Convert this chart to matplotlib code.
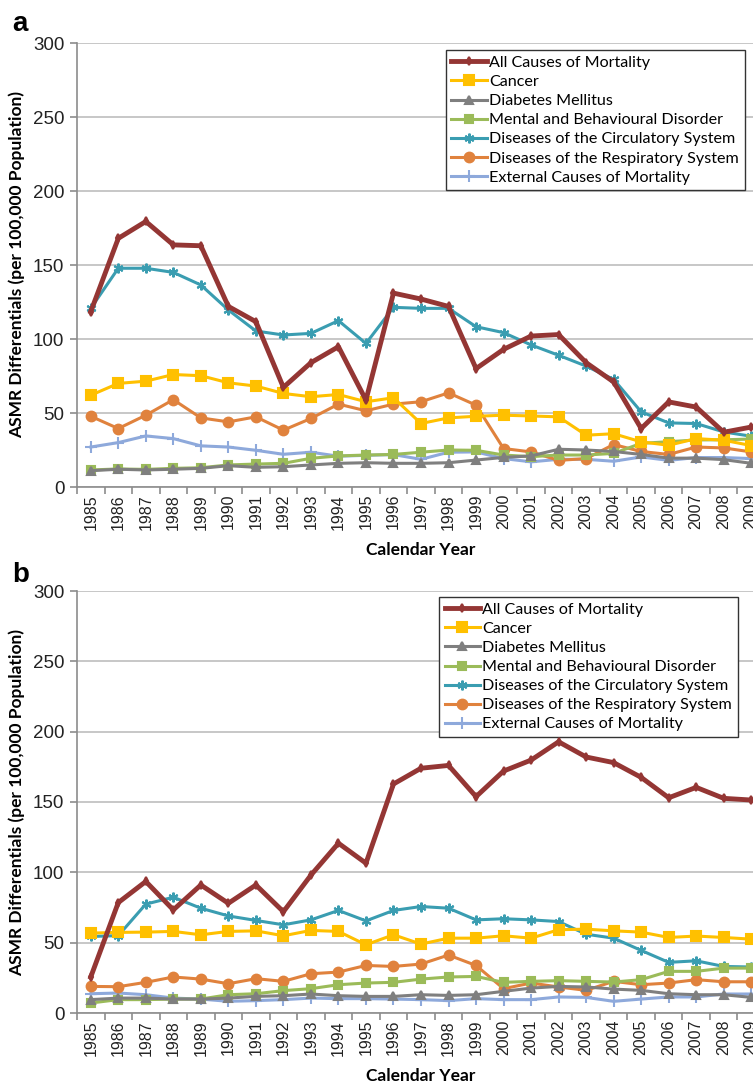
import numpy as np
import matplotlib
matplotlib.use("Agg")
import matplotlib.pyplot as plt

plt.rcParams['font.family'] = ['Lato', 'DejaVu Sans']

years = [str(y) for y in range(1985, 2010)]

labels = ["All Causes of Mortality", "Cancer", "Diabetes Mellitus",
          "Mental and Behavioural Disorder", "Diseases of the Circulatory System",
          "Diseases of the Respiratory System", "External Causes of Mortality"]

# panel a
a_all = [118.5, 168, 179.4, 163.6, 163, 122, 111.7, 67.3, 84, 94.8, 58.7, 131, 127,
         122, 80, 93, 102, 103, 84, 71, 39.5, 57.5, 54, 37, 40.5]
a_cancer = [62, 70, 71.5, 76, 75.2, 70.4, 68.2, 63.2, 61, 62.5, 57.6, 60.3, 42.9,
            46.7, 47.8, 48.5, 48, 47.4, 35, 36, 30.5, 28.2, 32.7, 31.6, 28]
a_diab = [11, 12, 11.5, 12, 12.6, 14.4, 13.3, 13.7, 14.9, 16, 16.4, 16, 16, 16.4,
          18.2, 20, 21, 25.5, 25, 24, 22, 19.5, 19.5, 18.5, 16]
a_mental = [11.5, 12.2, 11.9, 12.6, 13, 14.9, 15.5, 16, 19.4, 21, 21.6, 22, 23.5,
            25, 24.8, 21.6, 20.5, 21.6, 21.6, 22.7, 29.5, 30.6, 31.8, 31.9, 32.4]
a_circ = [120.7, 147.8, 147.8, 145, 136.5, 119.6, 105.4, 102.7, 103.8, 112.4, 97,
          121.4, 120.7, 120.7, 108.3, 104.3, 96, 89, 81.7, 72.7, 50.8, 43.3, 42.9,
          37.2, 34.3]
a_resp = [47.8, 39.5, 48.5, 59, 46.7, 44, 47.4, 38.4, 46.3, 56, 51.5, 56, 57.6,
          63.6, 55.3, 26, 23.7, 18, 19.2, 28.7, 24, 22, 27, 26.4, 23.7]
a_ext = [27, 30, 34.5, 32.7, 27.8, 27, 24.8, 22.1, 23.5, 20.8, 21.4, 21.9, 18.7,
         23.5, 23.7, 19.2, 17, 18.7, 18.7, 17.4, 20.3, 18, 19.9, 19.9, 19.2]

# panel b
b_all = [25.6, 78.5, 93.5, 73.3, 91, 78, 91, 72, 98, 120.7, 106.5, 162.8, 174, 176,
         153.8, 172, 179.8, 192.8, 182, 178, 167.5, 153, 160.4, 152.6, 151.4]
b_cancer = [56.8, 57.3, 57.5, 58, 55.6, 58, 58.4, 54.9, 58.7, 58, 48.5, 55.6, 49,
            53.2, 53.2, 54.9, 53.2, 59.2, 59.6, 58.4, 57.5, 53.7, 54.7, 53.7, 52.5]
b_diab = [9.5, 10.6, 10.6, 9.9, 9.9, 10.6, 11.8, 12.3, 13.5, 12.3, 11.8, 11.8, 13,
          12.5, 13, 15.4, 17.7, 18.9, 18.5, 17, 16.1, 13.7, 13, 13, 11.1]
b_mental = [7.1, 9.5, 9.5, 9.9, 9.9, 13, 13.7, 15.9, 17.3, 20.1, 21.3, 21.8, 24.1,
            25.6, 26, 21.8, 22.5, 23, 22.5, 22, 23.7, 29.6, 29.6, 31.9, 31.9]
b_circ = [54.4, 55, 77.4, 82.3, 74.5, 69, 65.8, 62.7, 66.2, 72.9, 65.5, 72.9, 75.7,
          74.5, 66.2, 67, 66.2, 65, 56, 53.2, 44.5, 36, 37.1, 33.1, 32.7]
b_resp = [18.9, 18.7, 21.8, 25.6, 24.1, 20.8, 24.4, 22.5, 27.9, 29.1, 33.8, 33.1,
          34.8, 41.2, 33.8, 17.3, 21.3, 18.5, 16.1, 22.5, 20.1, 21.3, 23.7, 22.2, 22.2]
b_ext = [13.7, 14.2, 13, 10.6, 9.9, 8.3, 8.8, 9.5, 10.6, 10.2, 10.2, 9.9, 9.5, 8.8,
         10.2, 9.5, 9.5, 11.4, 11.1, 8.3, 9.9, 11.4, 11.4, 13.5, 13.5]

colors = ['#943634', '#FFC000', '#7F7F7F', '#9BBB59', '#3A9DB1', '#E0823D', '#8EA9DB']
markers = ['d', 's', '^', 's', (6, 2, 0), 'o', '+']
msizes = [4, 7, 6, 6, 7, 7, 8]
widths = [3.5, 2.2, 2.2, 2.2, 2.2, 2.2, 2.2]

fig = plt.figure(figsize=(7.53, 10.86), dpi=100)
W, H = 753.0, 1086.0


def panel(rect, series, leg_anchor, letter, letter_y):
    ax = fig.add_axes(rect)
    x = np.arange(len(years))
    order = [6, 5, 4, 3, 2, 1, 0]
    handles = [None] * 7
    for i in order:
        ln, = ax.plot(x, series[i], color=colors[i], lw=widths[i], marker=markers[i],
                      ms=msizes[i], mew=1.5, mec=colors[i], mfc=colors[i],
                      label=labels[i], zorder=3 + (7 - i))
        handles[i] = ln
    ax.set_xlim(-0.5, len(years) - 0.5)
    ax.set_ylim(0, 300)
    ax.set_yticks(range(0, 301, 50))
    ax.grid(axis='y', color='#BEBEBE', lw=1.2)
    ax.set_axisbelow(True)
    for s in ['top', 'right']:
        ax.spines[s].set_visible(False)
    for s in ['left', 'bottom']:
        ax.spines[s].set_color('#8C8C8C')
        ax.spines[s].set_linewidth(1.2)
    ax.set_xticks(x)
    ax.set_xticklabels(years, rotation=90, fontsize=11.5, fontfamily='Liberation Sans',
                       color='#222222')
    ax.set_xticks(np.arange(-0.5, len(years), 1), minor=True)
    ax.tick_params(axis='x', which='major', length=0, pad=5)
    ax.tick_params(axis='x', which='minor', length=5, color='#8C8C8C', width=1.2)
    ax.tick_params(axis='y', length=5, color='#8C8C8C', width=1.2, pad=4)
    for t in ax.get_yticklabels():
        t.set_fontsize(13.5)
        t.set_fontfamily('Liberation Sans')
        t.set_color('#222222')
    ax.set_ylabel("ASMR Differentials (per 100,000 Population)", fontsize=12.5,
                  fontweight='bold', labelpad=6)
    ax.set_xlabel("Calendar Year", fontsize=12.5, fontweight='bold', labelpad=9)
    leg = ax.legend(handles=handles, loc='upper left', bbox_to_anchor=leg_anchor,
                    borderaxespad=0, fontsize=11.6, labelspacing=0.3,
                    handlelength=2.2, handletextpad=0.15, borderpad=0.35,
                    fancybox=False, framealpha=1, edgecolor='#333333')
    leg.get_frame().set_linewidth(1.0)
    fig.text(12 / W, 1 - letter_y / H, letter, fontsize=20, fontweight='bold',
             fontfamily='Liberation Sans', va='baseline')
    return ax


def rect_from_px(left, top, right, bottom):
    return [left / W, 1 - bottom / H, (right - left) / W, (bottom - top) / H]


panel(rect_from_px(77, 43, 765, 487),
      [a_all, a_cancer, a_diab, a_mental, a_circ, a_resp, a_ext],
      (0.536, 0.984), 'a', 31)
panel(rect_from_px(77, 591, 765, 1013),
      [b_all, b_cancer, b_diab, b_mental, b_circ, b_resp, b_ext],
      (0.526, 0.986), 'b', 582)

fig.savefig("out.png", dpi=100)
